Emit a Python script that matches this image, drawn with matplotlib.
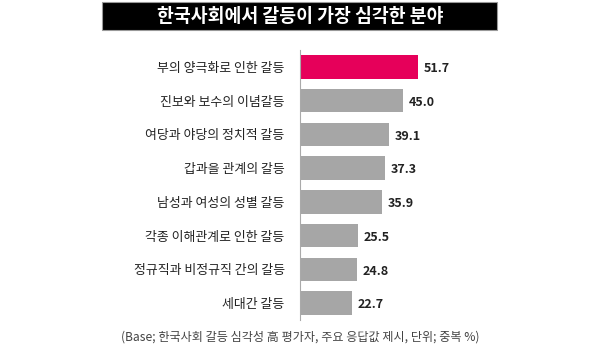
import matplotlib
matplotlib.use("Agg")
import matplotlib.pyplot as plt
from matplotlib.patches import Rectangle

plt.rcParams['font.family'] = ['Noto Sans CJK KR', 'DejaVu Sans']

# data
categories = ['부의 양극화로 인한 갈등', '진보와 보수의 이념갈등', '여당과 야당의 정치적 갈등',
              '갑과을 관계의 갈등', '남성과 여성의 성별 갈등', '각종 이해관계로 인한 갈등',
              '정규직과 비정규직 간의 갈등', '세대간 갈등']
values = [51.7, 45.0, 39.1, 37.3, 35.9, 25.5, 24.8, 22.7]
title = '한국사회에서 갈등이 가장 심각한 분야'
note = '(Base; 한국사회 갈등 심각성 高 평가자, 주요 응답값 제시, 단위; 중복 %)'

PINK = '#E6005A'
GREY = '#A6A6A6'

fig = plt.figure(figsize=(6.0, 3.62), dpi=100)
W, H = 600, 362

# title bar
fig.patches.append(Rectangle((102 / W, 1 - 30 / H), (497 - 102) / W, 28 / H,
                             transform=fig.transFigure, facecolor='black',
                             edgecolor='#999999', linewidth=0.8))
fig.text(300 / W, 1 - 16 / H, title, color='white', fontsize=13.2,
         fontweight='bold', ha='center', va='center')

ax = fig.add_axes([300 / W, 1 - 320 / H, 228 / W, 270 / H])
ypos = list(range(len(categories)))
colors = [PINK] + [GREY] * (len(values) - 1)
ax.barh(ypos, values, height=0.7, color=colors)
ax.set_xlim(0, 100)
ax.set_ylim(len(categories) - 0.5, -0.5)

for y, v in zip(ypos, values):
    ax.text(v + 2.6, y + 0.05, f'{v:.1f}', fontsize=9, fontweight='bold',
            color='#222222', ha='left', va='center')

ax.set_yticks(ypos)
ax.set_yticklabels(categories, fontsize=9.3, color='#222222')
ax.tick_params(axis='y', length=0, pad=11)
ax.set_xticks([])
for s in ['top', 'right', 'bottom']:
    ax.spines[s].set_visible(False)
ax.spines['left'].set_color('#AAAAAA')
ax.spines['left'].set_linewidth(0.8)

fig.text(300 / W, 1 - 337 / H, note, fontsize=8.7, color='#444444',
         ha='center', va='center')

fig.savefig('out.png', dpi=100, facecolor='white')
